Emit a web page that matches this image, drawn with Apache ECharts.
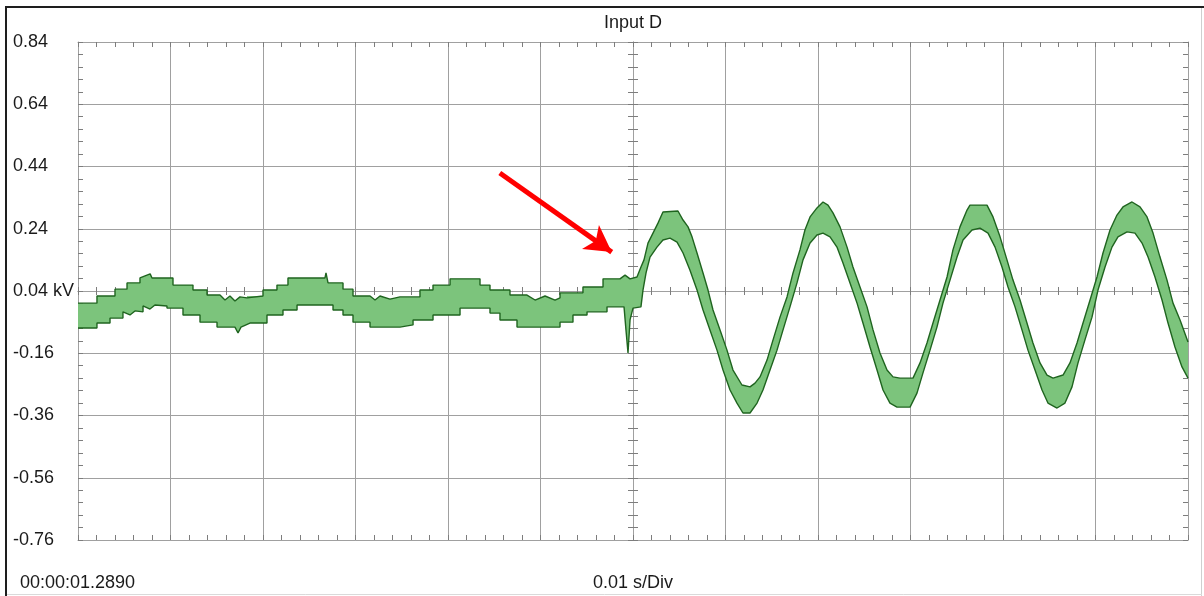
<!DOCTYPE html>
<html>
<head>
<meta charset="utf-8">
<title>Input D</title>
<script src="https://cdn.jsdelivr.net/npm/echarts@6/dist/echarts.min.js"></script>
<style>
  html, body { margin: 0; padding: 0; background: #fff; }
  #scope { width: 1204px; height: 596px; }
</style>
</head>
<body>
<div id="scope"></div>
<script>
// time in ms (0.01 s/Div, 12 divisions), voltage in kV
const upperEdge = [
  [0, 0.001], [2.05, 0.001], [2.05, 0.024], [4.0, 0.024], [4.0, 0.046], [5.3, 0.046], [5.3, 0.066], [6.7, 0.066],
  [6.7, 0.082], [7.8, 0.095], [8.0, 0.082], [10.27, 0.082], [10.27, 0.059], [12.43, 0.059], [12.43, 0.043],
  [13.95, 0.043], [13.95, 0.027], [15.35, 0.027], [15.89, 0.011], [16.43, 0.024], [16.97, 0.008], [17.51, 0.021],
  [18.27, 0.018], [18.27, 0.024], [20.0, 0.024], [20.0, 0.043], [21.51, 0.043], [21.51, 0.059], [22.7, 0.059],
  [22.7, 0.082], [26.7, 0.082], [26.81, 0.098], [27.03, 0.066], [28.65, 0.066], [28.65, 0.046], [29.73, 0.046],
  [29.73, 0.024], [31.57, 0.024], [32.11, 0.011], [32.65, 0.024], [33.73, 0.014], [34.81, 0.021], [36.97, 0.021],
  [36.97, 0.043], [38.38, 0.043], [38.38, 0.059], [40.22, 0.059], [40.22, 0.079], [43.46, 0.079], [43.46, 0.059],
  [44.54, 0.059], [44.54, 0.043], [46.7, 0.043], [46.7, 0.027], [48.54, 0.027], [49.41, 0.011], [50.49, 0.024],
  [51.57, 0.011], [52.11, 0.018], [52.11, 0.034], [54.59, 0.034], [54.59, 0.053], [56.76, 0.053], [56.76, 0.079],
  [58.59, 0.079], [59.14, 0.091], [59.68, 0.079], [60.43, 0.085], [60.86, 0.117], [61.19, 0.140], [61.62, 0.194],
  [62.16, 0.226], [62.7, 0.258], [63.24, 0.294], [64.86, 0.297], [65.41, 0.268], [65.95, 0.246], [66.38, 0.214],
  [66.92, 0.162], [67.57, 0.098], [68.11, 0.043], [68.65, -0.021], [69.41, -0.085], [70.16, -0.150], [70.81, -0.214],
  [71.78, -0.262], [72.65, -0.268], [73.19, -0.256], [73.73, -0.236], [74.49, -0.182], [75.14, -0.117], [75.89, -0.044],
  [76.65, 0.021], [77.3, 0.098], [78.05, 0.172], [78.59, 0.236], [79.14, 0.278], [79.89, 0.307], [80.54, 0.326],
  [81.08, 0.316], [81.62, 0.291], [82.38, 0.246], [83.14, 0.181], [83.78, 0.117], [84.54, 0.053], [85.3, -0.011],
  [85.95, -0.085], [86.7, -0.159], [87.46, -0.214], [88.11, -0.236], [88.86, -0.240], [90.27, -0.240], [91.03, -0.191],
  [91.78, -0.127], [92.43, -0.063], [93.19, 0.011], [93.95, 0.085], [94.59, 0.172], [95.35, 0.246], [96.11, 0.300],
  [96.43, 0.316], [98.27, 0.316], [98.92, 0.278], [99.68, 0.214], [100.43, 0.140], [101.08, 0.075], [101.84, 0.011],
  [102.59, -0.063], [103.24, -0.127], [104.0, -0.191], [104.76, -0.230], [105.41, -0.240], [106.49, -0.230],
  [107.24, -0.191], [108.0, -0.127], [108.65, -0.063], [109.41, 0.011], [110.16, 0.085], [110.81, 0.162],
  [111.57, 0.236], [112.32, 0.284], [112.97, 0.310], [113.95, 0.326], [114.81, 0.310], [115.57, 0.278],
  [116.22, 0.226], [116.97, 0.149], [117.73, 0.075], [118.38, 0.001], [119.14, -0.053], [120, -0.124]
]

const lowerEdge = [
  [0, -0.079], [2.05, -0.079], [2.05, -0.063], [3.46, -0.063], [3.46, -0.047], [4.86, -0.047], [4.86, -0.027],
  [5.62, -0.037], [6.16, -0.024], [7.03, -0.027], [7.03, -0.008], [7.78, -0.018], [8.32, -0.005], [9.62, -0.008],
  [9.62, -0.015], [11.35, -0.015], [11.35, -0.037], [13.19, -0.037], [13.19, -0.060], [15.03, -0.060], [15.03, -0.076],
  [16.97, -0.076], [17.3, -0.095], [17.62, -0.076], [18.59, -0.063], [20.43, -0.063], [20.43, -0.037], [22.16, -0.037],
  [22.16, -0.021], [23.68, -0.021], [23.68, -0.005], [27.57, -0.005], [27.57, -0.021], [28.65, -0.021], [28.65, -0.037],
  [29.73, -0.037], [29.73, -0.060], [31.57, -0.060], [31.57, -0.076], [34.81, -0.076], [36.22, -0.069], [36.22, -0.053],
  [38.38, -0.053], [38.38, -0.037], [41.3, -0.037], [41.3, -0.015], [44.54, -0.015], [44.54, -0.031], [45.62, -0.031],
  [45.62, -0.053], [47.46, -0.053], [47.46, -0.076], [52.11, -0.076], [52.11, -0.060], [53.51, -0.060], [53.51, -0.037],
  [55.03, -0.037], [55.03, -0.027], [57.19, -0.027], [57.19, -0.011], [59.03, -0.011], [59.24, -0.085], [59.46, -0.159],
  [59.68, -0.053], [60.0, -0.015], [60.86, -0.011], [61.08, 0.043], [61.41, 0.098], [61.84, 0.149], [62.59, 0.181],
  [63.24, 0.204], [64.0, 0.210], [64.76, 0.197], [65.41, 0.162], [66.16, 0.107], [66.92, 0.043], [67.57, -0.021],
  [68.32, -0.085], [69.08, -0.150], [69.73, -0.214], [70.49, -0.278], [71.24, -0.320], [71.89, -0.352], [72.65, -0.352],
  [73.41, -0.320], [74.05, -0.278], [74.81, -0.214], [75.57, -0.150], [76.22, -0.085], [76.97, -0.011], [77.73, 0.066],
  [78.38, 0.140], [79.14, 0.194], [79.89, 0.220], [80.54, 0.226], [81.3, 0.214], [82.05, 0.181], [82.7, 0.130],
  [83.46, 0.066], [84.22, 0.001], [84.86, -0.063], [85.62, -0.140], [86.38, -0.214], [87.03, -0.278], [87.78, -0.320],
  [88.54, -0.333], [89.95, -0.333], [90.7, -0.288], [91.35, -0.223], [92.11, -0.150], [92.86, -0.076], [93.51, 0.001],
  [94.27, 0.075], [95.03, 0.149], [95.68, 0.204], [96.65, 0.236], [97.51, 0.242], [98.38, 0.226], [99.14, 0.181],
  [99.89, 0.117], [100.54, 0.053], [101.3, -0.011], [102.05, -0.085], [102.7, -0.150], [103.46, -0.214], [104.22, -0.278],
  [104.86, -0.320], [105.84, -0.336], [106.7, -0.320], [107.46, -0.268], [108.11, -0.191], [108.86, -0.117],
  [109.62, -0.044], [110.27, 0.043], [111.03, 0.117], [111.78, 0.181], [112.43, 0.214], [113.41, 0.230],
  [114.27, 0.226], [115.03, 0.194], [115.68, 0.149], [116.43, 0.085], [117.19, 0.011], [117.84, -0.063],
  [118.59, -0.140], [119.35, -0.204], [120, -0.240]
]

const yTickLabels = ['-0.76', '-0.56', '-0.36', '-0.16', '0.04 kV', '0.24', '0.44', '0.64', '0.84']
const arrowFrom = [45.6, 0.419]
const arrowTo = [57.7, 0.165]
const channelName = 'Input D'
const startTime = '00:00:01.2890'
const timeBase = '0.01 s/Div'

const FONT = '"Liberation Sans", Arial, sans-serif'
const GRID_COLOR = '#a0a0a0'
const TICK_COLOR = '#7d7d7d'
const FILL = '#7cc47c'
const EDGE = '#1f641f'

const chart = echarts.init(document.getElementById('scope'), null, { renderer: 'canvas' })

// shared pieces for the scope-style frame axes
const xFrame = (extra) => Object.assign({
  type: 'value', min: 0, max: 120, interval: 10,
  axisLabel: { show: false },
  splitLine: { show: false },
  axisLine: { onZero: false, lineStyle: { color: GRID_COLOR } },
  axisTick: { show: true, inside: true, length: 5, lineStyle: { color: TICK_COLOR } },
  minorTick: { show: true, splitNumber: 5, length: 5, lineStyle: { color: TICK_COLOR } }
}, extra)

const yFrame = (extra) => Object.assign({
  type: 'value', min: -0.8, max: 0.8, interval: 0.2,
  axisLabel: { show: false },
  splitLine: { show: false },
  axisLine: { onZero: false, lineStyle: { color: GRID_COLOR } },
  axisTick: { show: true, inside: true, length: 5, lineStyle: { color: TICK_COLOR } },
  minorTick: { show: true, splitNumber: 5, length: 5, lineStyle: { color: TICK_COLOR } }
}, extra)

// center cross axes sit on the zero of the helper axes (= 0.04 kV / 60 ms)
const centerX = (inside) => xFrame({
  position: 'bottom',
  axisLine: { onZero: true, onZeroAxisIndex: 1, lineStyle: { color: GRID_COLOR } },
  axisTick: { show: true, inside: inside, length: 4, lineStyle: { color: TICK_COLOR } },
  minorTick: { show: true, splitNumber: 5, length: 4, lineStyle: { color: TICK_COLOR } }
})

const centerY = (inside) => yFrame({
  position: 'left',
  axisLine: { onZero: true, onZeroAxisIndex: 2, lineStyle: { color: GRID_COLOR } },
  axisTick: { show: true, inside: inside, length: 5, lineStyle: { color: TICK_COLOR } }
})

chart.setOption({
  animation: false,
  backgroundColor: '#fff',
  grid: { left: 78, right: 16, top: 42, bottom: 56 },
  xAxis: [
    xFrame({ position: 'bottom', splitLine: { show: true, lineStyle: { color: GRID_COLOR, width: 1 } } }),
    xFrame({ position: 'top' }),
    { type: 'value', min: -60, max: 60, show: false },
    centerX(true),
    centerX(false)
  ],
  yAxis: [
    { type: 'value', min: -0.76, max: 0.84, show: false },
    yFrame({
      position: 'left',
      splitLine: { show: true, lineStyle: { color: GRID_COLOR, width: 1 } },
      axisLabel: {
        show: true, align: 'left', margin: 65, color: '#1a1a1a',
        fontFamily: FONT, fontSize: 18,
        formatter: (v, i) => yTickLabels[i]
      }
    }),
    yFrame({ position: 'right' }),
    centerY(true),
    centerY(false)
  ],
  series: [
    {
      // green envelope between the two edges
      type: 'custom',
      xAxisIndex: 0,
      yAxisIndex: 0,
      silent: true,
      z: 2,
      data: upperEdge,
      encode: { x: 0, y: 1 },
      renderItem: (params, api) => {
        if (params.dataIndex !== 0) return null
        const pts = upperEdge.map(p => api.coord(p))
          .concat(lowerEdge.slice().reverse().map(p => api.coord(p)))
        return {
          type: 'polygon',
          shape: { points: pts },
          style: { fill: FILL }
        }
      }
    },
    {
      type: 'line',
      name: 'upper',
      xAxisIndex: 0,
      yAxisIndex: 0,
      data: upperEdge,
      showSymbol: false,
      silent: true,
      z: 3,
      lineStyle: { color: EDGE, width: 1.4 },
      markLine: {
        silent: true,
        symbol: ['none', 'arrow'],
        symbolSize: [22, 26],
        label: { show: false },
        lineStyle: { color: '#ff0000', width: 5, type: 'solid' },
        data: [[{ coord: arrowFrom }, { coord: arrowTo }]]
      }
    },
    {
      type: 'line',
      name: 'lower',
      xAxisIndex: 0,
      yAxisIndex: 0,
      data: lowerEdge,
      showSymbol: false,
      silent: true,
      z: 3,
      lineStyle: { color: EDGE, width: 1.4 }
    }
  ],
  graphic: [
    { type: 'line', shape: { x1: 6, y1: 7, x2: 1204, y2: 7 }, style: { stroke: '#1e1e1e', lineWidth: 2 } },
    { type: 'line', shape: { x1: 6, y1: 6, x2: 6, y2: 596 }, style: { stroke: '#1e1e1e', lineWidth: 2 } },
    { type: 'line', shape: { x1: 1201.5, y1: 8, x2: 1201.5, y2: 596 }, style: { stroke: '#cfcfcf', lineWidth: 1 } },
    { type: 'line', shape: { x1: 7, y1: 594.5, x2: 1202, y2: 594.5 }, style: { stroke: '#dadada', lineWidth: 1 } },
    {
      type: 'text', x: 633, y: 23,
      style: { text: channelName, fill: '#1a1a1a', font: '18px ' + FONT, align: 'center', verticalAlign: 'middle' }
    },
    {
      type: 'text', x: 20, y: 583,
      style: { text: startTime, fill: '#1a1a1a', font: '18px ' + FONT, align: 'left', verticalAlign: 'middle' }
    },
    {
      type: 'text', x: 633, y: 583,
      style: { text: timeBase, fill: '#1a1a1a', font: '18px ' + FONT, align: 'center', verticalAlign: 'middle' }
    }
  ]
})
</script>
</body>
</html>
